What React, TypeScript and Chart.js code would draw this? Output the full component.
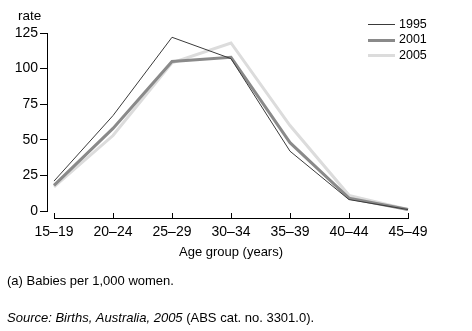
import React, { useEffect, useRef } from "react";
import { Chart, registerables } from "chart.js";

Chart.register(...registerables);

const categories = ["15–19", "20–24", "25–29", "30–34", "35–39", "40–44", "45–49"];
const rate1995 = [21, 67, 122, 107, 42, 8, 1];
const rate2001 = [18, 58, 105, 108, 48, 9, 1];
const rate2005 = [17, 53, 104, 118, 60, 11, 1];
const seriesNames = ["1995", "2001", "2005"];
const yTickValues = [0, 25, 50, 75, 100, 125];

const FONT = "'Liberation Sans', Arial, sans-serif";
const X_AXIS_GAP = 7;

const decorPlugin = {
  id: "decor",
  afterDraw(chart: any) {
    const ctx = chart.ctx;
    const xs = chart.scales.x;
    const area = chart.chartArea;
    ctx.save();
    ctx.fillStyle = "#000";
    const axY = Math.round(area.bottom) + X_AXIS_GAP;
    const x0 = Math.round(xs.getPixelForValue(0));
    const x1 = Math.round(xs.getPixelForValue(categories.length - 1));
    ctx.fillRect(x0, axY, x1 - x0 + 1, 1);
    categories.forEach((_, i) => {
      const px = Math.round(xs.getPixelForValue(i));
      ctx.fillRect(px, axY - 5, 1, 5);
    });

    ctx.font = `13.5px ${FONT}`;
    ctx.textAlign = "left";
    ctx.textBaseline = "middle";
    ctx.fillText("rate", 18, 16);

    ctx.font = `13px ${FONT}`;
    ctx.textAlign = "center";
    ctx.fillText("Age group (years)", (x0 + x1) / 2, 252);

    ctx.font = `12.5px ${FONT}`;
    ctx.textAlign = "left";
    chart.data.datasets.forEach((ds: any, i: number) => {
      const ly = 24.5 + i * 15.5;
      const cy = Math.floor(ly) + 0.5;
      ctx.strokeStyle = ds.borderColor;
      ctx.lineWidth = ds.borderWidth;
      ctx.beginPath();
      ctx.moveTo(368, cy);
      ctx.lineTo(395, cy);
      ctx.stroke();
      ctx.fillStyle = "#000";
      ctx.fillText(ds.label, 399, ly);
    });

    ctx.font = `13px ${FONT}`;
    ctx.fillText("(a) Babies per 1,000 women.", 7, 281);
    ctx.font = `italic 13px ${FONT}`;
    const it = "Source: Births, Australia, 2005";
    ctx.fillText(it, 7, 318);
    const w = ctx.measureText(it).width;
    ctx.font = `13px ${FONT}`;
    ctx.fillText(" (ABS cat. no. 3301.0).", 7 + w, 318);
    ctx.restore();
  },
};

export default function App() {
  const ref = useRef<HTMLCanvasElement | null>(null);
  useEffect(() => {
    document.body.style.margin = "0";
    const canvas = ref.current!;
    const mk = (vals: number[]) => vals.map((v, i) => ({ x: i, y: v }));
    const chart = new Chart(canvas, {
      type: "line",
      data: {
        datasets: [
          { label: seriesNames[0], data: mk(rate1995), borderColor: "#3a3a3a", borderWidth: 1, pointRadius: 0, tension: 0, clip: false },
          { label: seriesNames[1], data: mk(rate2001), borderColor: "#8a8a8a", borderWidth: 3, pointRadius: 0, tension: 0, clip: false },
          { label: seriesNames[2], data: mk(rate2005), borderColor: "#dcdcdc", borderWidth: 3, pointRadius: 0, tension: 0, clip: false },
        ],
      },
      options: {
        animation: false,
        responsive: false,
        devicePixelRatio: 1,
        layout: { padding: { top: 33, right: 64, bottom: 0, left: 0 } },
        plugins: { legend: { display: false }, tooltip: { enabled: false } },
        scales: {
          x: {
            type: "linear",
            min: -7 / 59,
            max: categories.length - 1,
            afterBuildTicks: (s: any) => {
              s.ticks = categories.map((_, i) => ({ value: i }));
            },
            afterFit: (s: any) => {
              s.height = 331 - 211;
            },
            grid: { display: false, drawTicks: false },
            border: { display: false },
            ticks: {
              autoSkip: false,
              maxRotation: 0,
              padding: 6 + X_AXIS_GAP,
              color: "#000",
              font: { family: FONT, size: 14 },
              callback: (v: any) => categories[v] ?? "",
            },
          },
          y: {
            type: "linear",
            min: 0,
            max: 125,
            afterBuildTicks: (s: any) => {
              s.ticks = yTickValues.map((v) => ({ value: v }));
            },
            afterFit: (s: any) => {
              s.width = 47;
            },
            grid: { drawOnChartArea: false, drawTicks: true, tickLength: 7, color: "#000", lineWidth: 1 },
            border: { display: true, color: "#000", width: 1 },
            ticks: {
              padding: 2,
              color: "#000",
              font: { family: FONT, size: 14 },
            },
          },
        },
      },
      plugins: [decorPlugin],
    } as any);
    return () => chart.destroy();
  }, []);
  return (
    <div style={{ position: "fixed", left: 0, top: 0, width: 472, height: 331, background: "#fff" }}>
      <canvas ref={ref} width={472} height={331} />
    </div>
  );
}
